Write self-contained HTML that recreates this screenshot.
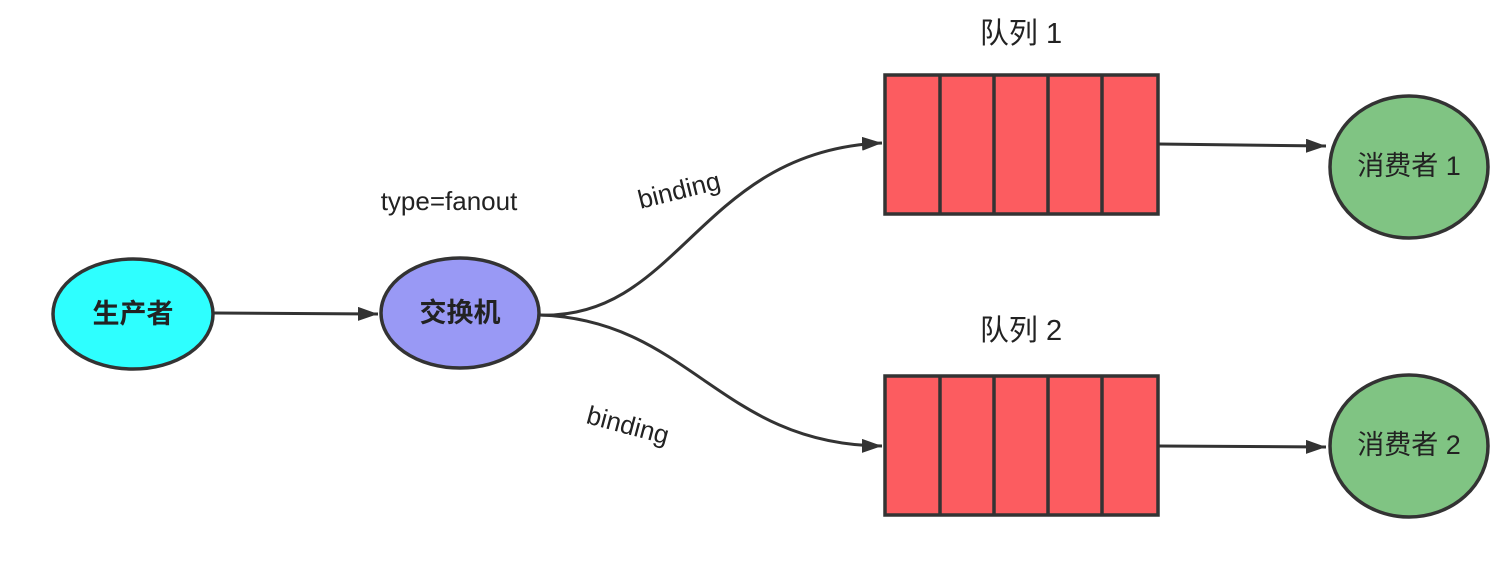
<!DOCTYPE html>
<html><head><meta charset="utf-8"><style>
body{margin:0;background:#fff;}
svg text{font-family:"Liberation Sans","Noto Sans CJK SC",sans-serif;fill:#222;}
</style></head><body>
<svg width="1502" height="562" viewBox="0 0 1502 562" xmlns="http://www.w3.org/2000/svg">
<defs>
<marker id="b" viewBox="0 0 20 14" refX="20" refY="7" markerWidth="20" markerHeight="14" orient="auto" markerUnits="userSpaceOnUse"><path d="M0,0 L20,7 L0,14 Z" fill="#333"/></marker></defs>
<g stroke="#333" stroke-width="3" fill="none">
<line x1="214" y1="313" x2="378" y2="314" marker-end="url(#b)"/>
<path d="M540,315 C680,320 700,150 882,143" marker-end="url(#b)"/>
<path d="M540,315 C690,320 720,445 882,446" marker-end="url(#b)"/>
<line x1="1158" y1="144" x2="1326" y2="146" marker-end="url(#b)"/>
<line x1="1158" y1="446" x2="1326" y2="447" marker-end="url(#b)"/>
</g>
<g stroke="#333" stroke-width="3.5">
<ellipse cx="133" cy="314" rx="80" ry="55" fill="#2effff"/>
<ellipse cx="460" cy="313" rx="79" ry="55" fill="#9999f5"/>
<ellipse cx="1409" cy="167" rx="79" ry="71" fill="#80c483"/>
<ellipse cx="1409" cy="446" rx="79" ry="71" fill="#80c483"/>
<rect x="885" y="75" width="273" height="139" fill="#fc5c60"/>
<rect x="885" y="376" width="273" height="139" fill="#fc5c60"/>
<path d="M940,75V214M994,75V214M1048,75V214M1102,75V214M940,376V515M994,376V515M1048,376V515M1102,376V515" fill="none"/>
</g>
<g font-size="27" font-weight="bold" text-anchor="middle">
<text x="133" y="323">生产者</text>
<text x="460" y="322">交换机</text>
</g>
<g font-size="27" text-anchor="middle">
<text x="1409" y="156" dy="19">消费者 1</text>
<text x="1409" y="435" dy="19">消费者 2</text>
<text x="1021" y="43" font-size="29">队列 1</text>
<text x="1021" y="340" font-size="29">队列 2</text>
</g>
<text x="449" y="210" font-size="26" text-anchor="middle">type=fanout</text>
<text x="679" y="199" font-size="26" text-anchor="middle" transform="rotate(-14 679 190)">binding</text>
<text x="628" y="434" font-size="26" text-anchor="middle" transform="rotate(15 628 425)">binding</text>
</svg>
</body></html>
